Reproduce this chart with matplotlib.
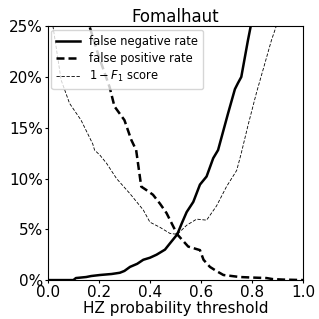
import matplotlib
matplotlib.use("Agg")
import matplotlib.pyplot as plt
from matplotlib.ticker import FuncFormatter

# threshold values (x) and rates (%)
fnr_x = [0.0, 0.10, 0.11, 0.15, 0.17, 0.204, 0.25, 0.282, 0.30, 0.322, 0.35, 0.374, 0.40,
         0.426, 0.459, 0.478, 0.507, 0.525, 0.544, 0.57, 0.596, 0.622, 0.648, 0.667,
         0.706, 0.733, 0.745, 0.758, 0.784, 0.795, 0.81]
fnr_y = [0.0, 0.0, 0.2, 0.3, 0.4, 0.5, 0.6, 0.72, 0.9, 1.3, 1.6, 2.0, 2.2,
         2.5, 3.0, 3.6, 4.5, 5.6, 6.7, 7.7, 9.4, 10.2, 12.0, 12.8,
         16.4, 18.8, 19.4, 20.0, 23.6, 25.0, 26.5]

fpr_x = [0.15, 0.163, 0.20, 0.242, 0.261, 0.30, 0.327, 0.346, 0.366, 0.39, 0.412, 0.44,
         0.465, 0.507, 0.55, 0.596, 0.61, 0.635, 0.66, 0.688, 0.753, 0.80, 0.857,
         0.88, 0.92, 1.0]
fpr_y = [26.0, 25.0, 22.0, 19.0, 17.1, 15.75, 13.8, 12.8, 9.2, 8.8, 8.4, 7.5,
         6.6, 4.5, 3.3, 2.95, 2.0, 1.3, 0.9, 0.5, 0.3, 0.25, 0.2,
         0.1, 0.05, 0.0]

f1_x = [0.015, 0.02, 0.052, 0.085, 0.13, 0.176, 0.183, 0.204, 0.23, 0.269, 0.322, 0.374,
        0.40, 0.439, 0.478, 0.507, 0.544, 0.583, 0.622, 0.661, 0.70, 0.74, 0.758,
        0.784, 0.817, 0.85, 0.876, 0.895, 0.905]
f1_y = [26.0, 25.0, 19.7, 17.4, 15.75, 13.4, 12.8, 12.3, 11.5, 10.0, 8.5, 6.9,
        5.7, 5.2, 4.6, 4.5, 5.4, 6.0, 5.9, 7.3, 9.2, 10.8, 12.5,
        15.2, 18.4, 21.3, 23.6, 25.0, 26.0]

xticks = [0.0, 0.2, 0.4, 0.6, 0.8, 1.0]
yticks = [0, 5, 10, 15, 20, 25]

fig = plt.figure(figsize=(3.19, 3.19), dpi=100)
ax = fig.add_axes([0.150, 0.122, 0.800, 0.796])

ax.plot(fnr_x, fnr_y, color="black", lw=1.8, ls="-", label="false negative rate")
ax.plot(fpr_x, fpr_y, color="black", lw=1.8, ls=(0, (3.2, 1.6)), label="false positive rate")
ax.plot(f1_x, f1_y, color="black", lw=0.6, ls=(0, (4, 2)), label=r"$1-F_1$ score")

ax.set_xlim(0, 1)
ax.set_ylim(0, 25)
ax.set_xticks(xticks)
ax.set_yticks(yticks)
ax.yaxis.set_major_formatter(FuncFormatter(lambda v, p: f"{int(v)}%"))
ax.tick_params(labelsize=11, length=2, width=0.8, pad=1.5)
ax.set_xlabel("HZ probability threshold", fontsize=11, labelpad=1)
ax.set_title("Fomalhaut", fontsize=12, pad=3)
ax.legend(loc="upper left", fontsize=8.3, frameon=True, handlelength=2.0,
          borderpad=0.45, labelspacing=0.35, handletextpad=0.8, borderaxespad=0.3)

fig.savefig("out.png", dpi=100)
